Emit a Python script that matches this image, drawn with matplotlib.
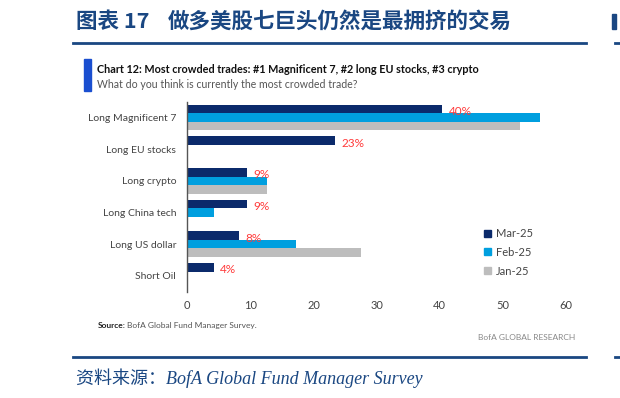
import matplotlib.pyplot as plt
from matplotlib.patches import Rectangle
from matplotlib.lines import Line2D

# Dados do gráfico
categorias = ["Long Magnificent 7", "Long EU stocks", "Long crypto",
              "Long China tech", "Long US dollar", "Short Oil"]
mar_25 = [40.4, 23.4, 9.4, 9.4, 8.2, 4.2]
feb_25 = [55.9, 0, 12.6, 4.3, 17.3, 0]
jan_25 = [52.7, 0, 12.7, 0, 27.5, 0]
series = ["Mar-25", "Feb-25", "Jan-25"]
xticks = [0, 10, 20, 30, 40, 50, 60]

titulo_num = "图表 17"
titulo = "做多美股七巨头仍然是最拥挤的交易"
chart_title = "Chart 12: Most crowded trades: #1 Magnificent 7, #2 long EU stocks, #3 crypto"
chart_sub = "What do you think is currently the most crowded trade?"
fonte = "资料来源：BofA Global Fund Manager Survey"

cores = ["#0b2a6b", "#009fdf", "#bdbdbd"]
azul_titulo = "#1a4782"
vermelho = "#ff3b3b"
sans = ["Lato", "DejaVu Sans"]
cjk = ["Noto Sans CJK SC", "DejaVu Sans"]

fig = plt.figure(figsize=(6.2, 3.98), dpi=100)
W, H = 620, 398


def fx(px):
    return px / W


def fy(py):
    return 1 - py / H


ax = fig.add_axes([fx(187.3), fy(291.7), fx(566) - fx(187.3), fy(101.7) - fy(291.7)])

h = 0.27
y = list(range(len(categorias)))
for i, (vals, cor) in enumerate(zip([mar_25, feb_25, jan_25], cores)):
    pos = [v + (i - 1) * h for v in y]
    ax.barh(pos, vals, height=h, color=cor, label=series[i])

# Rótulos de valor (apenas Mar-25)
for yi, v in zip(y, mar_25):
    ax.text(v + 1.0, yi - h + 0.08, f"{v:.0f}%", color=vermelho, va="center",
            ha="left", fontsize=8.5, family=sans)

ax.set_ylim(len(categorias) - 0.5, -0.5)
ax.set_xlim(0, 60)
ax.set_xticks(xticks)
ax.set_yticks(y)
ax.set_yticklabels(categorias)
for s in ["top", "right", "bottom"]:
    ax.spines[s].set_visible(False)
ax.spines["left"].set_color("#555555")
ax.spines["left"].set_linewidth(1.0)
ax.tick_params(axis="both", length=0, colors="#444444", labelsize=8)
ax.tick_params(axis="y", pad=8, labelsize=7.5)
ax.tick_params(axis="x", pad=6)
for lab in ax.get_xticklabels() + ax.get_yticklabels():
    lab.set_family(sans)

handles = [Rectangle((0, 0), 1, 1, color=c) for c in cores]
ax.legend(handles, series, loc="upper left", bbox_to_anchor=(fx(474), fy(218)),
          bbox_transform=fig.transFigure, frameon=False,
          handlelength=0.6, handleheight=0.6, handletextpad=0.5,
          labelspacing=0.7, prop={"family": sans, "size": 8},
          labelcolor="#444444")

# Título principal e linhas
fig.text(fx(76), fy(21), titulo_num, fontsize=15.5, color=azul_titulo, weight="bold",
         family=cjk, va="center", ha="left")
fig.text(fx(168), fy(21), titulo, fontsize=15.5, color=azul_titulo, weight="bold",
         family=cjk, va="center", ha="left")
for yl in [42.7, 357.3]:
    fig.add_artist(Line2D([fx(73), fx(586)], [fy(yl), fy(yl)], color=azul_titulo, lw=2))
    fig.add_artist(Line2D([fx(615), fx(620)], [fy(yl), fy(yl)], color=azul_titulo, lw=2))
fig.add_artist(Rectangle((fx(612), fy(29)), fx(4), fy(14) - fy(29), color=azul_titulo,
                         transform=fig.transFigure))

# Cabeçalho do gráfico
fig.add_artist(Rectangle((fx(84), fy(90.7)), fx(6.5), fy(59.3) - fy(90.7),
                         color="#1a4fd0", transform=fig.transFigure))
fig.text(fx(97), fy(69.5), chart_title, fontsize=7.8, weight="bold", color="#111111",
         family=sans, va="center", ha="left")
fig.text(fx(97), fy(84), chart_sub, fontsize=7.6, color="#555555",
         family=sans, va="center", ha="left")

# Rodapé
t = fig.text(fx(97.5), fy(325.5), "Source:", fontsize=6, weight="bold", color="#222222",
             family=sans, va="center", ha="left")
fig.canvas.draw()
bb = t.get_window_extent()
fig.text(bb.x1 / W + fx(2), fy(325.5), "BofA Global Fund Manager Survey.", fontsize=6,
         color="#555555", family=sans, va="center", ha="left")
fig.text(fx(575), fy(338), "BofA GLOBAL RESEARCH", fontsize=6, color="#888888",
         family=sans, va="center", ha="right")
fig.text(fx(76), fy(378), fonte, fontsize=13, color=azul_titulo, style="italic",
         family=["Liberation Serif", "Noto Sans CJK SC"], va="center", ha="left")

fig.savefig("out.png", dpi=100)
